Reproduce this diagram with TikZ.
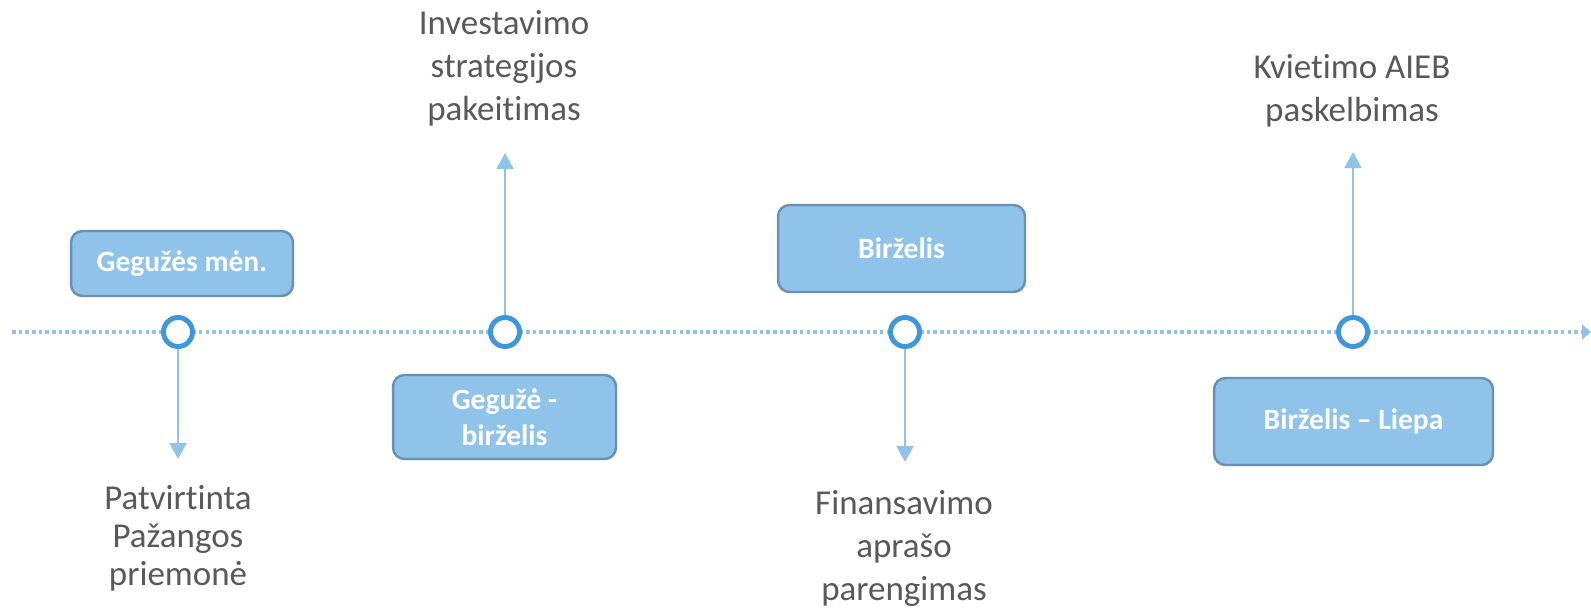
\documentclass[tikz,border=0pt]{standalone}
\usepackage{fontspec}
\setmainfont{Carlito}[Ligatures=NoCommon]
\usepackage{tikz}
\usetikzlibrary{arrows.meta}
\definecolor{boxfill}{RGB}{143,195,234}
\definecolor{boxline}{RGB}{104,145,180}
\definecolor{ringblue}{RGB}{62,150,219}
\definecolor{linkblue}{RGB}{143,195,234}
\definecolor{textgrey}{RGB}{89,89,89}
\tikzstyle{monthbox} = [rectangle, rounded corners=6.5pt, draw=boxline, line width=1.4pt, fill=boxfill, text=white, font=\fontsize{16.8}{20.4}\selectfont\bfseries, align=center]
\tikzstyle{milestone} = [circle, draw=ringblue, fill=white, line width=2.8pt, minimum size=0.58cm, inner sep=0pt]
\tikzstyle{event} = [align=center, text=textgrey, font=\fontsize{19.9}{24.4}\selectfont, inner sep=0pt, anchor=base]
\tikzstyle{link} = [line width=1.1pt, draw=linkblue, -{Triangle[width=0.34cm,length=0.32cm]}]
\tikzstyle{timeline} = [line width=2pt, draw=linkblue, dash pattern=on 2pt off 1.8pt, -{Triangle[width=0.3cm,length=0.18cm]}]

\begin{document}
\begin{tikzpicture}[x=0.02cm, y=-0.02cm]
\useasboundingbox (0,0) rectangle (1591,609);

% timeline
\coordinate (tstart) at (12,332);
\coordinate (tend) at (1591,332);
\draw [timeline] (tstart) -- (tend);

\node (c1) [milestone] at (178,332) {};
\node (c2) [milestone] at (505,332) {};
\node (c3) [milestone] at (905,332) {};
\node (c4) [milestone] at (1353,332) {};

\node (box1) [monthbox, minimum width=4.44cm, minimum height=1.3cm] at (182,263.5) {Gegužės mėn.};
\node (box2) [monthbox, minimum width=4.46cm, minimum height=1.68cm] at (504.5,417) {Gegužė -\\birželis};
\node (box3) [monthbox, minimum width=4.94cm, minimum height=1.74cm] at (901.5,248.5) {Birželis};
\node (box4) [monthbox, minimum width=5.58cm, minimum height=1.74cm] at (1353.5,421.5) {Birželis – Liepa};

% base = last line
\node (ev1) [event, font=\fontsize{19.9}{21.5}\selectfont] at (178,585) {Patvirtinta\\Pažangos\\priemonė};
\node (ev2) [event] at (504,120) {Investavimo\\strategijos\\pakeitimas};
\node (ev3) [event] at (904,600) {Finansavimo\\aprašo\\parengimas};
\node (ev4) [event] at (1352,121) {Kvietimo AIEB\\paskelbimas};

\coordinate (tip1) at (178,459);
\coordinate (tip2) at (505,153);
\coordinate (tip3) at (905,462);
\coordinate (tip4) at (1353,152);
\draw [link] (c1) -- (tip1);
\draw [link] (c2) -- (tip2);
\draw [link] (c3) -- (tip3);
\draw [link] (c4) -- (tip4);
\end{tikzpicture}
\end{document}
